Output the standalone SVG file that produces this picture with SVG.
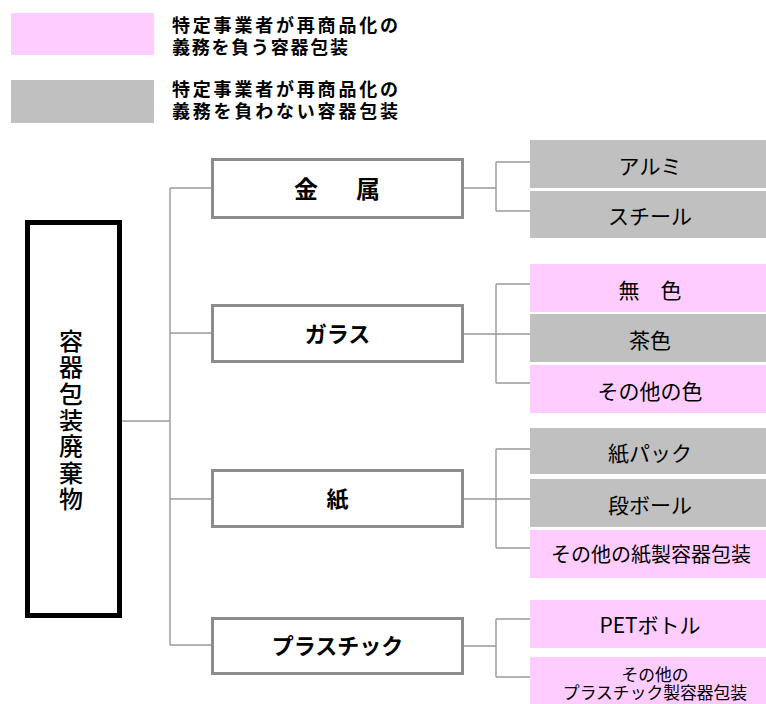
<svg xmlns="http://www.w3.org/2000/svg" width="766" height="704" viewBox="0 0 766 704">
<style>
.pink{fill:#ffccff}
.gray{fill:#c0c0c0}
.t{font-family:"Noto Sans CJK JP","Noto Sans",sans-serif;fill:#000}
.leg{font-size:18px;font-weight:bold}
.mid{fill:#fff;stroke:#8c8c8c;stroke-width:3}
.mt{font-size:22px;font-weight:bold;text-anchor:middle}
.vt{font-size:24px;font-weight:500;text-anchor:middle;writing-mode:vertical-rl;letter-spacing:2.3px}
.rt{font-size:21px;text-anchor:middle}
.conn{fill:none;stroke:#999;stroke-width:1.4}
</style>
<rect width="766" height="704" fill="#fff"/>
<g id="legend">
<rect class="pink" x="11" y="13" width="143" height="42"/>
<text class="t leg"><tspan x="172" y="32" textLength="226" lengthAdjust="spacing">特定事業者が再商品化の</tspan><tspan x="172" y="54" textLength="176" lengthAdjust="spacing">義務を負う容器包装</tspan></text>
<rect class="gray" x="11" y="80" width="143" height="43"/>
<text class="t leg"><tspan x="172" y="96" textLength="226" lengthAdjust="spacing">特定事業者が再商品化の</tspan><tspan x="172" y="118" textLength="226" lengthAdjust="spacing">義務を負わない容器包装</tspan></text>
</g>
<g id="connectors">
<path class="conn" d="M122 421H170M170 188V645M170 188H211M170 333H211M170 499H211M170 645H211"/>
<path class="conn" d="M464 188H496M496 162V211M496 162H530M496 211H530"/>
<path class="conn" d="M464 334H496M496 284V383M496 284H530M496 334H530M496 383H530"/>
<path class="conn" d="M464 499H496M496 449V548M496 449H530M496 499H530M496 548H530"/>
<path class="conn" d="M464 646H496M496 619V677M496 619H530M496 677H530"/>
</g>
<g id="root">
<rect x="27.5" y="222.5" width="92" height="393" fill="#fff" stroke="#000" stroke-width="5"/>
<text class="t vt" x="71" y="421">容器包装廃棄物</text>
</g>
<g id="metal">
<rect class="mid" x="212.5" y="159.5" width="250" height="58"/>
<text class="t mt" y="198" style="font-size:24px"><tspan x="306">金</tspan><tspan x="368">属</tspan></text>
</g>
<g id="glass">
<rect class="mid" x="212.5" y="305.5" width="250" height="56"/>
<text class="t mt" x="337.5" y="342">ガラス</text>
</g>
<g id="paper">
<rect class="mid" x="212.5" y="470.5" width="250" height="56"/>
<text class="t mt" x="337.5" y="507">紙</text>
</g>
<g id="plastic">
<rect class="mid" x="212.5" y="618.5" width="250" height="55"/>
<text class="t mt" x="337.5" y="654">プラスチック</text>
</g>
<g id="aluminum"><rect class="gray" x="530" y="140" width="236" height="48"/><text class="t rt" x="650" y="174">アルミ</text></g>
<g id="steel"><rect class="gray" x="530" y="191" width="236" height="47"/><text class="t rt" x="650" y="224">スチール</text></g>
<g id="colorless"><rect class="pink" x="530" y="264" width="236" height="48"/><text class="t rt" x="650" y="298" xml:space="preserve">無　色</text></g>
<g id="brown"><rect class="gray" x="530" y="314" width="236" height="48"/><text class="t rt" x="650" y="348">茶色</text></g>
<g id="othercolor"><rect class="pink" x="530" y="365" width="236" height="48"/><text class="t rt" x="650" y="399">その他の色</text></g>
<g id="carton"><rect class="gray" x="530" y="428" width="236" height="46"/><text class="t rt" x="650" y="461">紙パック</text></g>
<g id="cardboard"><rect class="gray" x="530" y="479" width="236" height="48"/><text class="t rt" x="650" y="513">段ボール</text></g>
<g id="otherpaper"><rect class="pink" x="530" y="530" width="236" height="48"/><text class="t rt" x="651" y="562" style="font-size:20px">その他の紙製容器包装</text></g>
<g id="pet"><rect class="pink" x="530" y="600" width="236" height="48"/><text class="t rt" x="650" y="633">PETボトル</text></g>
<g id="otherplastic"><rect class="pink" x="530" y="657" width="236" height="47"/><text class="t rt" style="font-size:16.8px"><tspan x="655" y="681">その他の</tspan><tspan x="655" y="699">プラスチック製容器包装</tspan></text></g>
</svg>
